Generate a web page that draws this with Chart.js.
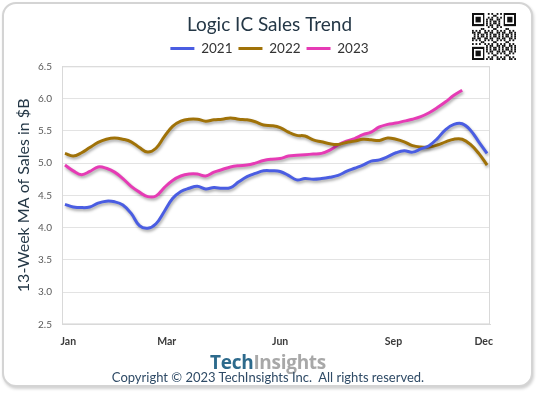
<!DOCTYPE html>
<html>
<head>
<meta charset="utf-8">
<title>Logic IC Sales Trend</title>
<script src="https://cdn.jsdelivr.net/npm/chart.js@4.4.1/dist/chart.umd.min.js"></script>
<style>
    body { margin: 0; background: #fff; }
    #wrap { position: relative; width: 539px; height: 393px; overflow: hidden; }
    #card {
        position: absolute; left: 2px; top: 2px; width: 527px; height: 381px;
        border: 2px solid #d4d4d4; border-radius: 14px;
        box-shadow: 1px 2px 3px rgba(0, 0, 0, 0.18); background: #fff;
    }
    #grafico { position: absolute; left: 0; top: 0; }
    #qr { position: absolute; left: 472px; top: 13px; }
    #logo {
        position: absolute; left: 0; top: 351px; width: 536px; text-align: center;
        font: bold 19px 'Open Sans', sans-serif; line-height: 22px; letter-spacing: -0.3px;
    }
    #logo .tech { color: #2d6a8c; }
    #logo .insights { color: #a8a8a8; }
    #copy {
        position: absolute; left: 0; top: 369px; width: 536px; text-align: center;
        font: 13px Lato, sans-serif; line-height: 16px; color: #2f4b66;
    }
</style>
</head>
<body>
<div id="wrap">
    <div id="card"></div>
    <canvas id="grafico" width="539" height="393"></canvas>
    <canvas id="qr" width="44" height="47"></canvas>
    <div id="logo"><span class="tech">Tech</span><span class="insights">Insights</span></div>
    <div id="copy">Copyright © 2023 TechInsights Inc.&nbsp; All rights reserved.</div>
</div>

<script>
// weekly 13-week moving average, $B
const weeks = Array.from({ length: 52 }, (_, i) => i + 1);

const sales2021 = [4.36, 4.32, 4.31, 4.32, 4.38, 4.41, 4.40, 4.35, 4.22, 4.03, 3.99, 4.06, 4.25,
    4.45, 4.56, 4.61, 4.64, 4.60, 4.62, 4.61, 4.62, 4.71, 4.79, 4.84, 4.88, 4.88,
    4.87, 4.81, 4.74, 4.76, 4.75, 4.76, 4.78, 4.81, 4.87, 4.92, 4.97, 5.03, 5.05,
    5.10, 5.16, 5.19, 5.17, 5.22, 5.27, 5.38, 5.52, 5.60, 5.61, 5.51, 5.33, 5.15];

const sales2022 = [5.15, 5.11, 5.16, 5.24, 5.32, 5.37, 5.39, 5.37, 5.33, 5.24, 5.17, 5.23, 5.41,
    5.57, 5.65, 5.68, 5.68, 5.65, 5.67, 5.68, 5.70, 5.68, 5.67, 5.64, 5.59, 5.58,
    5.55, 5.48, 5.43, 5.42, 5.36, 5.33, 5.30, 5.29, 5.32, 5.34, 5.37, 5.36, 5.35,
    5.39, 5.37, 5.33, 5.27, 5.25, 5.25, 5.28, 5.33, 5.37, 5.37, 5.29, 5.15, 4.97];

const sales2023 = [4.97, 4.88, 4.82, 4.87, 4.94, 4.92, 4.86, 4.76, 4.64, 4.55, 4.48, 4.49, 4.62,
    4.73, 4.80, 4.83, 4.83, 4.80, 4.86, 4.90, 4.94, 4.96, 4.97, 5.00, 5.04, 5.06,
    5.07, 5.11, 5.12, 5.13, 5.14, 5.15, 5.20, 5.28, 5.34, 5.38, 5.44, 5.48, 5.56,
    5.60, 5.62, 5.65, 5.68, 5.72, 5.78, 5.86, 5.95, 6.05, 6.13];

const tickLabels = ['Jan', 'Mar', 'Jun', 'Sep', 'Dec'];
const tickWeeks = [1.4, 13.3, 27.0, 40.7, 51.6];

function serie(valores) {
    return valores.map((v, i) => ({ x: weeks[i], y: v }));
}

function linha(label, valores, cor) {
    return {
        label: label,
        data: serie(valores),
        borderColor: cor,
        backgroundColor: cor,
        borderWidth: 3,
        pointRadius: 0,
        tension: 0.4,
        fill: false
    };
}

// plot frame + soft shadow under the lines, like the Excel original
const moldura = {
    id: 'moldura',
    beforeDatasetsDraw(chart) {
        const { ctx, chartArea: a } = chart;
        ctx.save();
        ctx.strokeStyle = '#d9d9d9';
        ctx.lineWidth = 1;
        ctx.strokeRect(a.left + 0.5, a.top + 0.5, a.right - a.left - 1, a.bottom - a.top - 1);
        ctx.restore();
        ctx.save();
        ctx.shadowColor = 'rgba(0, 0, 0, 0.35)';
        ctx.shadowBlur = 3;
        ctx.shadowOffsetX = 1;
        ctx.shadowOffsetY = 2;
    },
    afterDatasetsDraw(chart) {
        chart.ctx.restore();
    }
};

// empty axis used only as spacing
function espaco(posicao, tamanho) {
    return {
        type: 'linear',
        position: posicao,
        display: true,
        grid: { display: false },
        border: { display: false },
        ticks: { display: false },
        afterFit: (scale) => {
            if (scale.isHorizontal()) scale.height = tamanho;
            else scale.width = tamanho;
        }
    };
}

const config = {
    type: 'line',
    data: {
        datasets: [
            linha('2021', sales2021, '#4a5de2'),
            linha('2022', sales2022, '#a07208'),
            linha('2023', sales2023, '#e63bb5')
        ]
    },
    options: {
        responsive: false,
        animation: false,
        layout: { padding: { top: 13, right: 0, bottom: 42, left: 0 } },
        plugins: {
            title: {
                display: true,
                text: 'Logic IC Sales Trend',
                color: '#243746',
                font: { family: 'Lato', size: 19, weight: 'normal' },
                padding: { top: 0, bottom: 0 }
            },
            legend: {
                labels: {
                    usePointStyle: true,
                    pointStyle: 'line',
                    pointStyleWidth: 24,
                    color: '#333333',
                    font: { family: 'Lato', size: 13.5 },
                    padding: 6
                }
            },
            tooltip: { enabled: false }
        },
        scales: {
            x: {
                type: 'linear',
                min: 0.64,
                max: 52.36,
                afterBuildTicks: (scale) => {
                    scale.ticks = tickWeeks.map(v => ({ value: v }));
                },
                ticks: {
                    callback: (v, i) => tickLabels[i],
                    color: '#3a3a3a',
                    font: { family: 'Lato', size: 10.5, weight: 'bold' },
                    padding: 3,
                    maxRotation: 0,
                    autoSkip: false
                },
                grid: { display: false },
                border: { color: '#d9d9d9' }
            },
            y: {
                min: 2.5,
                max: 6.5,
                ticks: {
                    stepSize: 0.5,
                    callback: v => v.toFixed(1),
                    color: '#595959',
                    font: { family: 'Lato', size: 10 },
                    padding: 10
                },
                grid: { color: '#e3e3e3', drawTicks: false },
                border: { color: '#d9d9d9' },
                title: {
                    display: true,
                    text: '13-Week MA of Sales in $B',
                    color: '#243746',
                    font: { family: 'Lato', size: 16 },
                    padding: { top: 14, bottom: 0 }
                },
                afterFit: (scale) => { scale.width = 62; }
            },
            topo: espaco('top', 1),
            direita: espaco('right', 49)
        }
    },
    plugins: [moldura]
};

let myChart = new Chart(document.getElementById('grafico'), config);

// QR code corner decoration
const qr = document.getElementById('qr').getContext('2d');
const n = 25, m = 44 / n;
qr.fillStyle = '#111';
qr.save();
qr.scale(1, 47 / 44);
function finder(cx, cy) {
    qr.fillRect(cx * m, cy * m, 7 * m, 7 * m);
    qr.clearRect((cx + 1) * m, (cy + 1) * m, 5 * m, 5 * m);
    qr.fillRect((cx + 2) * m, (cy + 2) * m, 3 * m, 3 * m);
}
for (let r = 0; r < n; r++) {
    for (let c = 0; c < n; c++) {
        const inFinder = (r < 8 && c < 8) || (r < 8 && c > 16) || (r > 16 && c < 8);
        if (!inFinder && ((r * r * 3 + c * c * 5 + r * c * 7 + r + c) % 7 < 3)) {
            qr.fillRect(c * m, r * m, m, m);
        }
    }
}
finder(0, 0);
finder(18, 0);
finder(0, 18);
qr.restore();
</script>
</body>
</html>
